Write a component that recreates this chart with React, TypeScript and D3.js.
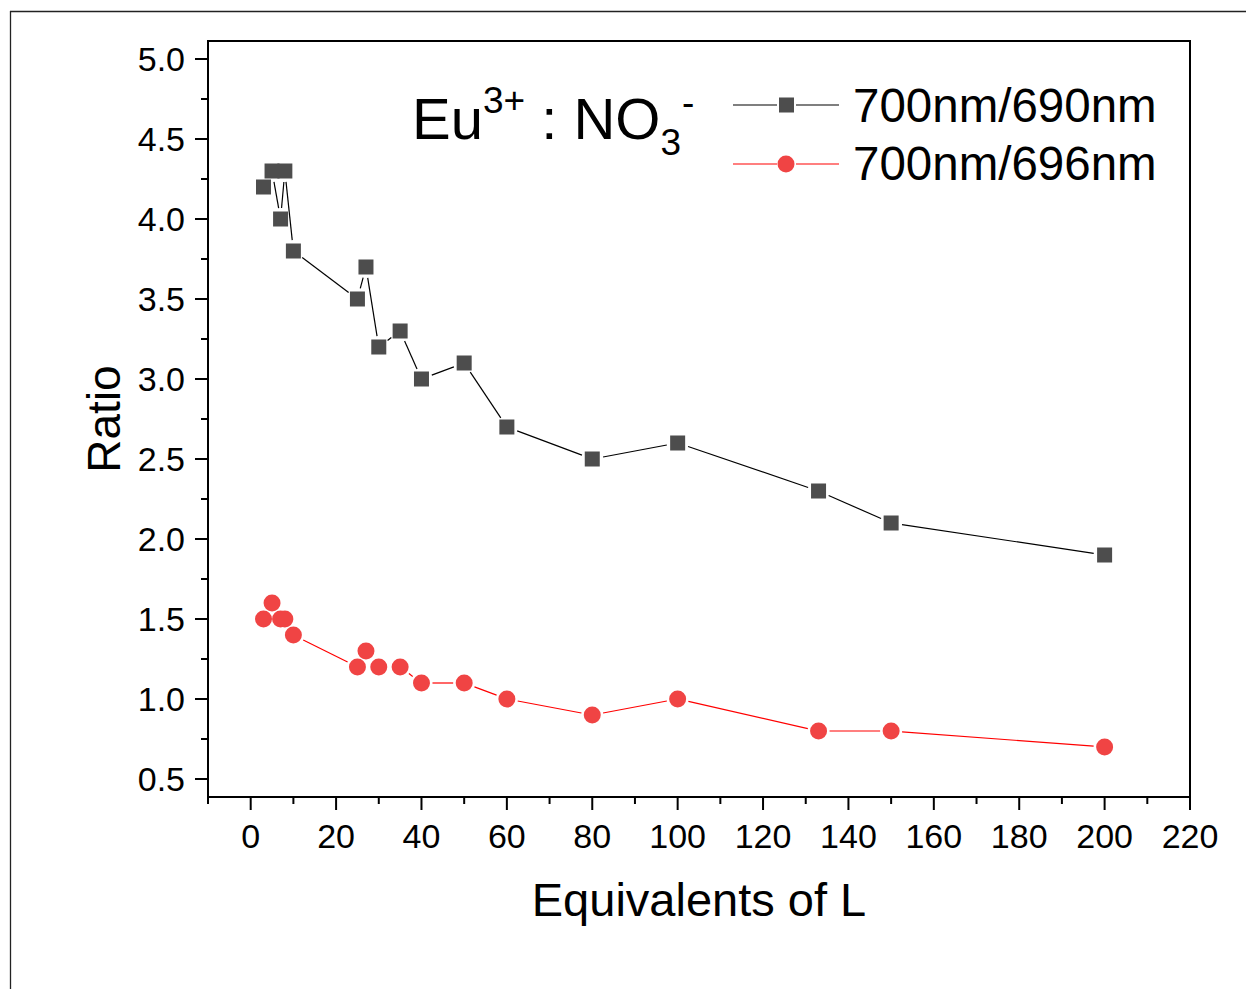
import React from "react";
import * as d3 from "d3";

// equivalents of ligand L
const equivalents = [3, 5, 7, 8, 10, 25, 27, 30, 35, 40, 50, 60, 80, 100, 133, 150, 200];
// 700nm/690nm ratio
const ratio690 = [4.2, 4.3, 4.0, 4.3, 3.8, 3.5, 3.7, 3.2, 3.3, 3.0, 3.1, 2.7, 2.5, 2.6, 2.3, 2.1, 1.9];
// 700nm/696nm ratio
const ratio696 = [1.5, 1.6, 1.5, 1.5, 1.4, 1.2, 1.3, 1.2, 1.2, 1.1, 1.1, 1.0, 0.9, 1.0, 0.8, 0.8, 0.7];

const xMajor = d3.range(0, 221, 20);
const xMinor = d3.range(-10, 220, 20);
const yMajor = d3.range(0.5, 5.01, 0.5);
const yMinor = d3.range(0.75, 5.0, 0.5);

const seriesNames = ["700nm/690nm", "700nm/696nm"];

const W = 1246;
const H = 989;
const left = 208;
const right = 1190;
const top = 41;
const bottom = 797;
const font = "'Liberation Sans', Arial, Helvetica, sans-serif";

const x = d3.scaleLinear().domain([-10, 220]).range([left, right]);
const y = d3.scaleLinear().domain([0.3875, 5.1125]).range([bottom, top]);

function gapLines(pts, gap, color) {
  let out = [];
  for (let i = 0; i < pts.length - 1; i++) {
    const [x1, y1] = pts[i];
    const [x2, y2] = pts[i + 1];
    const dx = x2 - x1;
    const dy = y2 - y1;
    const len = Math.sqrt(dx * dx + dy * dy);
    if (len <= gap * 2) continue;
    const ux = dx / len;
    const uy = dy / len;
    out.push(
      <line
        key={i}
        x1={x1 + ux * gap}
        y1={y1 + uy * gap}
        x2={x2 - ux * gap}
        y2={y2 - uy * gap}
        stroke={color}
        strokeWidth={1.2}
      />
    );
  }
  return out;
}

export default function App() {
  const pts690 = equivalents.map((e, i) => [x(e), y(ratio690[i])]);
  const pts696 = equivalents.map((e, i) => [x(e), y(ratio696[i])]);

  return (
    <svg
      width={W}
      height={H}
      style={{ position: "absolute", left: 0, top: 0, background: "white" }}
      fontFamily={font}
    >
      <rect x={0} y={0} width={W} height={H} fill="white" />
      {/* outer frame */}
      <line x1={10.5} y1={11} x2={10.5} y2={H} stroke="#222" strokeWidth={1.3} />
      <line x1={10} y1={11.5} x2={W} y2={11.5} stroke="#222" strokeWidth={1.3} />

      {/* plot box */}
      <rect
        x={left}
        y={top}
        width={right - left}
        height={bottom - top}
        fill="none"
        stroke="black"
        strokeWidth={2}
      />

      {/* x ticks */}
      {xMajor.map((t) => (
        <g key={"xm" + t}>
          <line x1={x(t)} x2={x(t)} y1={bottom} y2={bottom + 13} stroke="black" strokeWidth={2} />
          <text x={x(t)} y={848} fontSize={34} textAnchor="middle">
            {t}
          </text>
        </g>
      ))}
      {xMinor.map((t) => (
        <line key={"xn" + t} x1={x(t)} x2={x(t)} y1={bottom} y2={bottom + 7} stroke="black" strokeWidth={2} />
      ))}

      {/* y ticks */}
      {yMajor.map((t) => (
        <g key={"ym" + t}>
          <line x1={left - 13} x2={left} y1={y(t)} y2={y(t)} stroke="black" strokeWidth={2} />
          <text x={185} y={y(t)} dy="0.36em" fontSize={34} textAnchor="end">
            {t.toFixed(1)}
          </text>
        </g>
      ))}
      {yMinor.map((t) => (
        <line key={"yn" + t} x1={left - 7} x2={left} y1={y(t)} y2={y(t)} stroke="black" strokeWidth={2} />
      ))}

      {/* axis titles */}
      <text x={(left + right) / 2} y={916} fontSize={47} textAnchor="middle">
        Equivalents of L
      </text>
      <text transform="translate(120,419) rotate(-90)" fontSize={46} textAnchor="middle">
        Ratio
      </text>

      {/* series lines */}
      {gapLines(pts690, 11, "black")}
      {gapLines(pts696, 11, "#ff0000")}

      {/* markers */}
      {pts690.map(([px, py], i) => (
        <rect key={"s" + i} x={px - 7.5} y={py - 7.5} width={15} height={15} fill="#4d4d4d" />
      ))}
      {pts696.map(([px, py], i) => (
        <circle key={"c" + i} cx={px} cy={py} r={8.5} fill="#f04444" />
      ))}

      {/* annotation */}
      <text x={412} y={139} fontSize={58}>
        Eu
        <tspan fontSize={37} dy={-26}>3+</tspan>
        <tspan fontSize={58} dy={26}> : NO</tspan>
        <tspan fontSize={37} dy={16}>3</tspan>
        <tspan fontSize={37} dy={-40} dx={1}>-</tspan>
      </text>

      {/* legend */}
      <line x1={733} x2={777} y1={105} y2={105} stroke="black" strokeWidth={1.2} />
      <line x1={796} x2={839} y1={105} y2={105} stroke="black" strokeWidth={1.2} />
      <rect x={779} y={97.5} width={15} height={15} fill="#4d4d4d" />
      <text x={853} y={122} fontSize={47.5}>
        {seriesNames[0]}
      </text>
      <line x1={733} x2={777} y1={164} y2={164} stroke="#ff0000" strokeWidth={1.2} />
      <line x1={796} x2={839} y1={164} y2={164} stroke="#ff0000" strokeWidth={1.2} />
      <circle cx={786} cy={164} r={8.5} fill="#f04444" />
      <text x={853} y={180} fontSize={47.5}>
        {seriesNames[1]}
      </text>
    </svg>
  );
}
